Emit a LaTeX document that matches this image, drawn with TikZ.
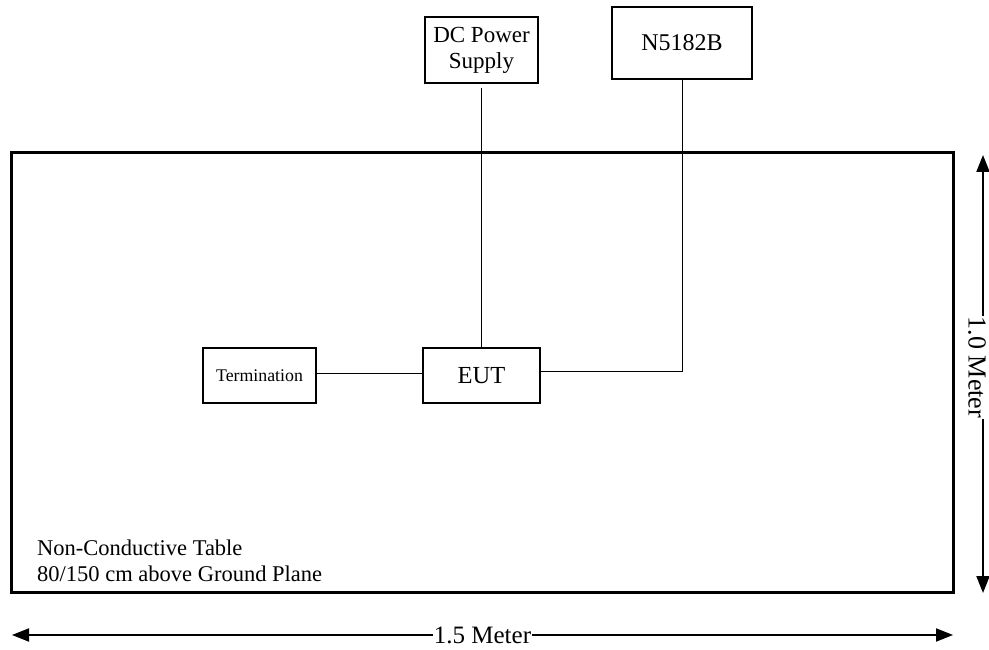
\documentclass[tikz,border=0pt]{standalone}
\usepackage{fontspec}
\setmainfont{Liberation Serif}
\usetikzlibrary{arrows.meta}
\begin{document}
\begin{tikzpicture}[x=1pt,y=-1pt,
  box/.style={draw,line width=1.3pt,inner sep=0pt,align=center},
  wire/.style={line width=1pt},
  dimline/.style={line width=2pt,{Triangle[length=17pt,width=13pt]}-{Triangle[length=17pt,width=13pt]}},
  lbl/.style={fill=white,inner xsep=1pt,inner ysep=0pt,font=\fontsize{25}{26}\selectfont},
  tabletext/.style={anchor=base west,inner sep=0pt,font=\fontsize{22.5}{26}\selectfont}]
\useasboundingbox (0,0) rectangle (989,650);
% table
\node[draw,line width=3pt,minimum width=942pt,minimum height=440pt,inner sep=0pt] (table) at (482,372.8) {};
\node[tabletext] (t1) at (37,555) {Non-Conductive Table};
\node[tabletext] (t2) at (37,581) {80/150 cm above Ground Plane};
% equipment
\node[box,minimum width=113pt,minimum height=66pt,font=\fontsize{23}{26}\selectfont] (dc) at (481.5,50) {DC Power\\Supply};
\node[box,minimum width=140pt,minimum height=72pt,font=\fontsize{24}{26}\selectfont] (sg) at (682,43) {N5182B};
\node[box,minimum width=117pt,minimum height=55pt,font=\fontsize{24.5}{26}\selectfont] (eut) at (481.5,375.5) {EUT};
\node[box,minimum width=113pt,minimum height=55pt,font=\fontsize{17.8}{20}\selectfont] (term) at (259.5,375.5) {Termination};
% wires
\draw[wire,shorten <=4pt] (dc.south) -- (eut.north);
\draw[wire] (sg.south) |- ([yshift=4pt]eut.east);
\draw[wire] ([yshift=2.5pt]term.east) -- ([yshift=2.5pt]eut.west);
% dimensions
\coordinate (v1) at (983,155);
\coordinate (v2) at (983,593);
\coordinate (h1) at (12,635);
\coordinate (h2) at (953,635);
\draw[dimline] (v1) -- node[lbl,xshift=-6pt,rotate=-90,pos=0.485,font=\fontsize{26}{26}\selectfont] (vl) {1.0 Meter} (v2);
\draw[dimline] (h1) -- node[lbl] (hl) {1.5 Meter} (h2);
\end{tikzpicture}
\end{document}
